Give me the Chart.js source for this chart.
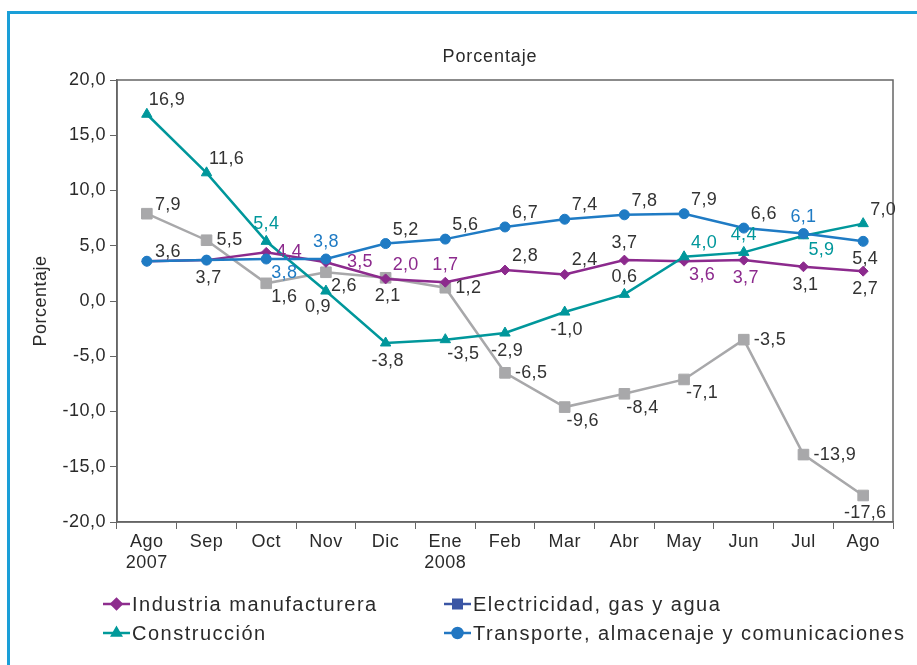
<!DOCTYPE html>
<html>
<head>
<meta charset="utf-8">
<script src="https://cdn.jsdelivr.net/npm/chart.js@4"></script>
<style>
  html, body { margin: 0; padding: 0; background: #fff; }
  #wrap { position: relative; width: 917px; height: 665px; overflow: hidden; }
  #frame { position: absolute; left: 7px; top: 11px; width: 940px; height: 700px;
           border-top: 3px solid #1a9fd8; border-left: 3px solid #1a9fd8; }
  #chart { position: absolute; left: 0; top: 0; }
</style>
</head>
<body>
<div id="wrap">
  <div id="frame"></div>
  <canvas id="chart" width="917" height="665"></canvas>
</div>
<script>
const categories = [['Ago', '2007'], 'Sep', 'Oct', 'Nov', 'Dic', ['Ene', '2008'], 'Feb', 'Mar', 'Abr', 'May', 'Jun', 'Jul', 'Ago'];
const seriesNames = ['Industria manufacturera', 'Electricidad, gas y agua', 'Construcción', 'Transporte, almacenaje y comunicaciones'];
const industria    = [3.6, 3.7, 4.4, 3.5, 2.0, 1.7, 2.8, 2.4, 3.7, 3.6, 3.7, 3.1, 2.7];
const electricidad = [7.9, 5.5, 1.6, 2.6, 2.1, 1.2, -6.5, -9.6, -8.4, -7.1, -3.5, -13.9, -17.6];
const construccion = [16.9, 11.6, 5.4, 0.9, -3.8, -3.5, -2.9, -1.0, 0.6, 4.0, 4.4, 5.9, 7.0];
const transporte   = [3.6, 3.7, 3.8, 3.8, 5.2, 5.6, 6.7, 7.4, 7.8, 7.9, 6.6, 6.1, 5.4];
const yTicks = [-20, -15, -10, -5, 0, 5, 10, 15, 20];

// label placement per point (style only): position code + whether it uses the series colour
const labelPos = {
    industria:    [null, 'b', 'r', 'rr', 'ar', 'a', 'ar', 'ar', 'a', 'br', 'b', 'b', 'b'],
    electricidad: ['ur', 'r', 'br', 'br', 'b', 'r', 'r', 'br', 'br', 'br', 'r', 'r', 'b'],
    construccion: ['ar', 'ar', 'a', 'bl', 'b', 'br', 'b', 'b', 'a', 'ar', 'a', 'br', 'ar'],
    transporte:   ['ur', null, 'br', 'a', 'ar', 'ar', 'ar', 'ar', 'ar', 'ar', 'ar', 'a', 'b']
};
const labelTint = {
    industria:    [0, 0, 1, 1, 1, 1, 0, 0, 0, 1, 1, 0, 0],
    electricidad: [0, 0, 0, 0, 0, 0, 0, 0, 0, 0, 0, 0, 0],
    construccion: [0, 0, 1, 0, 0, 0, 0, 0, 0, 1, 1, 1, 0],
    transporte:   [0, 0, 1, 1, 0, 0, 0, 0, 0, 0, 0, 1, 0]
};
const offsets = {
    a:  { dx: 0, dy: -17, align: 'center' },
    b:  { dx: 2, dy: 18, align: 'center' },
    r:  { dx: 10, dy: 0, align: 'left' },
    rr: { dx: 21, dy: 0, align: 'left' },
    ur: { dx: 21, dy: -9, align: 'center' },
    ar: { dx: 20, dy: -14, align: 'center' },
    br: { dx: 18, dy: 14, align: 'center' },
    bl: { dx: -8, dy: 16, align: 'center' }
};

const colors = { industria: '#8c2a8d', electricidad: '#a8a8aa', construccion: '#00979b', transporte: '#1f7bc4' };
const legendColors = ['#8e2d8e', '#3a55a4', '#00999a', '#2277c2'];
const legendStyles = ['rectRot', 'rect', 'triangle', 'circle'];
const keys = ['industria', 'electricidad', 'construccion', 'transporte'];
const fmt = v => v.toFixed(1).replace('.', ',');

const family = '"Liberation Sans", Arial, sans-serif';
const axisFont = { family: family, size: 18 };
const textColor = '#2a2a2a';

const spacing = {
    id: 'spacing',
    beforeDraw(chart) { chart.ctx.letterSpacing = '0.5px'; }
};

const pointLabels = {
    id: 'pointLabels',
    afterDatasetsDraw(chart) {
        const ctx = chart.ctx;
        ctx.save();
        ctx.letterSpacing = '0.3px';
        ctx.font = '18px ' + family;
        ctx.textBaseline = 'middle';
        chart.data.datasets.forEach((ds, di) => {
            const key = ds.key;
            chart.getDatasetMeta(di).data.forEach((pt, i) => {
                const code = labelPos[key][i];
                if (!code) return;
                const o = offsets[code];
                ctx.textAlign = o.align;
                ctx.fillStyle = labelTint[key][i] ? ds.borderColor : '#333';
                ctx.fillText(fmt(ds.data[i]), pt.x + o.dx, pt.y + o.dy);
            });
        });
        ctx.restore();
    }
};

const plotBox = {
    id: 'plotBox',
    beforeDatasetsDraw(chart) {
        const a = chart.chartArea, ctx = chart.ctx;
        ctx.save();
        ctx.strokeStyle = '#666';
        ctx.lineWidth = 1.5;
        ctx.strokeRect(a.left, a.top, a.right - a.left, a.bottom - a.top);
        // heading over the plot
        ctx.letterSpacing = '0.9px';
        ctx.font = '18px ' + family;
        ctx.fillStyle = textColor;
        ctx.textAlign = 'center';
        ctx.textBaseline = 'middle';
        ctx.fillText('Porcentaje', (a.left + a.right) / 2 - 15, a.top - 23);
        ctx.restore();
    }
};

const legendGrid = {
    id: 'legendGrid',
    afterDraw(chart) {
        const ctx = chart.ctx;
        const cols = [103, 444], rows = [604, 633];
        ctx.save();
        seriesNames.forEach((name, i) => {
            const x = cols[i % 2], y = rows[Math.floor(i / 2)];
            ctx.strokeStyle = legendColors[i];
            ctx.fillStyle = legendColors[i];
            ctx.lineWidth = 2.5;
            ctx.beginPath();
            ctx.moveTo(x, y);
            ctx.lineTo(x + 27, y);
            ctx.stroke();
            Chart.helpers.drawPoint(ctx, { pointStyle: legendStyles[i], radius: i === 1 ? 6 : 5, borderWidth: 1 }, x + 13.5, y);
            ctx.fillStyle = textColor;
            ctx.letterSpacing = '1.5px';
            ctx.font = '20px ' + family;
            ctx.textBaseline = 'middle';
            ctx.textAlign = 'left';
            ctx.fillText(name, x + 29, y + 1);
        });
        ctx.restore();
    }
};

const styles = {
    industria:    { pointStyle: 'rectRot', pointRadius: 5, order: 2 },
    electricidad: { pointStyle: 'rect', pointRadius: 7.5, order: 3 },
    construccion: { pointStyle: 'triangle', pointRadius: 6, order: 1 },
    transporte:   { pointStyle: 'circle', pointRadius: 5, order: 0 }
};
const values = { industria, electricidad, construccion, transporte };

new Chart(document.getElementById('chart'), {
    type: 'line',
    data: {
        labels: categories,
        datasets: keys.map((k, i) => ({
            key: k,
            label: seriesNames[i],
            data: values[k],
            borderColor: colors[k],
            backgroundColor: colors[k],
            pointBackgroundColor: colors[k],
            pointBorderColor: colors[k],
            borderWidth: 2.5,
            pointBorderWidth: 1,
            tension: 0,
            ...styles[k]
        }))
    },
    options: {
        responsive: false,
        animation: false,
        layout: { padding: { left: 30, right: 24, top: 80, bottom: 83 } },
        plugins: {
            legend: { display: false },
            tooltip: { enabled: false },
            title: { display: false }
        },
        scales: {
            x: {
                offset: true,
                grid: { offset: true, drawOnChartArea: false, color: '#666', tickLength: 7 },
                border: { color: '#666', width: 1.5 },
                ticks: { color: textColor, font: axisFont, maxRotation: 0, autoSkip: false, padding: 2 },
                afterFit(s) { s.height = 60; }
            },
            y: {
                min: -20, max: 20,
                afterBuildTicks(s) { s.ticks = yTicks.map(v => ({ value: v })); },
                grid: { drawOnChartArea: false, color: '#666', tickLength: 7 },
                border: { color: '#666', width: 1.5 },
                ticks: { color: textColor, font: axisFont, padding: 4, callback: v => fmt(v) },
                title: { display: true, text: 'Porcentaje', color: textColor, font: axisFont, padding: { top: 0, bottom: 0 } },
                afterFit(s) { s.width = 87; }
            }
        }
    },
    plugins: [spacing, plotBox, pointLabels, legendGrid]
});
</script>
</body>
</html>
